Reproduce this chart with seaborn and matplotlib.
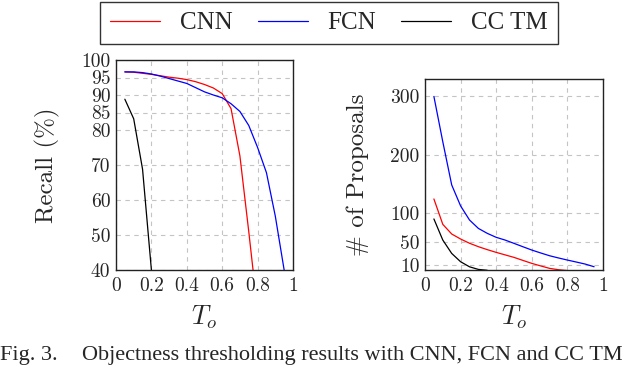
import matplotlib
matplotlib.use("Agg")
import matplotlib.pyplot as plt
import pandas as pd
import seaborn as sns

# values
x_vals = [0.05, 0.1, 0.15, 0.2, 0.25, 0.3, 0.35, 0.4, 0.45, 0.5,
          0.55, 0.6, 0.65, 0.7, 0.75, 0.8, 0.85, 0.9, 0.95]

recall_cnn = [96.6, 96.5, 96.2, 95.9, 95.5, 95.1, 94.8, 94.4, 93.8, 93.0,
              92.0, 90.4, 86.1, 72.6, 51.0, 28.3]
recall_fcn = [96.6, 96.6, 96.4, 96.0, 95.4, 94.7, 94.0, 93.3, 92.1, 90.9,
              90.0, 89.2, 87.5, 85.3, 81.3, 75.0, 67.8, 55.4, 40.0]
recall_cctm = [88.8, 83.2, 68.8, 40.0]

props_cnn = [123.7, 80.0, 63.4, 54.8, 47.5, 41.6, 36.5, 31.8, 27.5, 23.2,
             18.0, 12.9, 8.5, 4.3, 2.0, 0.5]
props_fcn = [300.0, 222.0, 147.8, 111.7, 87.5, 73.0, 64.5, 57.7, 53.0, 47.3,
             41.5, 35.8, 30.8, 26.0, 22.2, 18.6, 15.2, 11.7, 7.1]
props_cctm = [89.3, 53.0, 30.0, 15.7, 7.0, 2.5, 1.0]

methods = ["CNN", "FCN", "CC TM"]
palette = {"CNN": "#ff0000", "FCN": "#0000ff", "CC TM": "#000000"}


def long_frame(series):
    rows = []
    for name, vals in zip(methods, series):
        for xv, yv in zip(x_vals, vals):
            rows.append({"To": xv, "value": yv, "method": name})
    return pd.DataFrame(rows)


recall_df = long_frame([recall_cnn, recall_fcn, recall_cctm])
props_df = long_frame([props_cnn, props_fcn, props_cctm])

sns.set_style("white")
plt.rcParams["font.family"] = ["cmr10", "DejaVu Serif"]
plt.rcParams["mathtext.fontset"] = "cm"
plt.rcParams["axes.formatter.use_mathtext"] = True

fig = plt.figure(figsize=(6.4, 3.65), dpi=100)
W, H = 640, 365


def px_axes(x0, y0, x1, y1):
    return fig.add_axes([x0 / W, 1 - y1 / H, (x1 - x0) / W, (y1 - y0) / H])


ax1 = px_axes(116, 60, 293, 270)
ax2 = px_axes(425, 79, 603, 270)

for ax, df in [(ax1, recall_df), (ax2, props_df)]:
    sns.lineplot(data=df, x="To", y="value", hue="method", palette=palette,
                 hue_order=methods, linewidth=0.9, ax=ax, legend=False,
                 estimator=None, sort=False)

xticks = [0, 0.2, 0.4, 0.6, 0.8, 1]
xtick_labels = ["0", "0.2", "0.4", "0.6", "0.8", "1"]
recall_ticks = [40, 50, 60, 70, 80, 85, 90, 95, 100]
prop_ticks = [10, 50, 100, 200, 300]

ax1.set_xlim(0, 1)
ax1.set_ylim(40, 100)
ax1.set_yticks(recall_ticks)
ax1.set_yticklabels([str(t) for t in recall_ticks])
ax2.set_xlim(0, 1)
ax2.set_ylim(1.5, 330)
ax2.set_yticks(prop_ticks)
ax2.set_yticklabels([str(t) for t in prop_ticks])

for ax in (ax1, ax2):
    ax.set_xticks(xticks)
    ax.set_xticklabels(xtick_labels)
    ax.grid(True, color="#c4c4c4", linestyle=(0, (4, 4)), linewidth=0.8)
    ax.tick_params(labelsize=14, direction="in", length=3, width=0.6,
                   color="#888888", pad=4)
    ax.tick_params(axis="x", pad=5)
    for s in ax.spines.values():
        s.set_color("#222222")
        s.set_linewidth(1.0)
    ax.set_xlabel("$T_o$", fontsize=19, labelpad=6)

ax1.set_ylabel("Recall (%)", fontsize=18, labelpad=15)
ax2.set_ylabel("# of Proposals", fontsize=18, labelpad=15)

handles = [plt.Line2D([], [], color=palette[m], linewidth=0.9) for m in methods]
fig.legend(handles, methods, loc="upper center", bbox_to_anchor=(329 / W, 0.995),
           ncol=3, frameon=True, fancybox=False, edgecolor="#333333",
           prop={"family": "Liberation Serif", "size": 18},
           handlelength=2.0, handletextpad=0.8, columnspacing=1.0,
           borderpad=0.4, borderaxespad=0, framealpha=1)

fig.text(0.0, 5 / H, "Fig. 3.", family="Liberation Serif", fontsize=16,
         va="baseline")
fig.text(82 / W, 5 / H, "Objectness thresholding results with CNN, FCN and CC TM",
         family="Liberation Serif", fontsize=16, va="baseline")

fig.savefig("out.png", dpi=100)
